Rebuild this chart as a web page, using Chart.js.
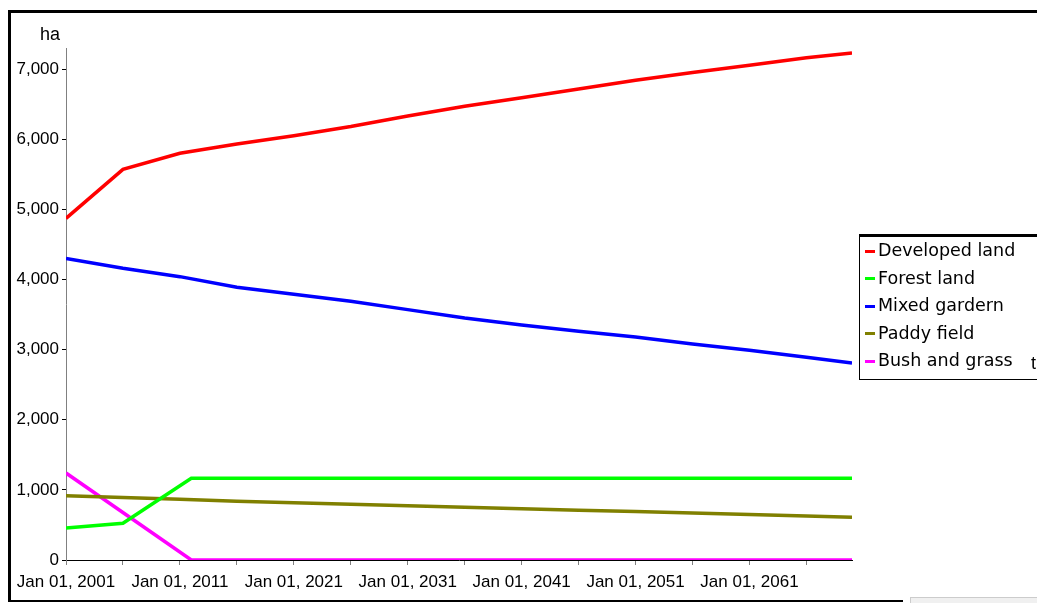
<!DOCTYPE html>
<html lang="en">
<head>
  <meta charset="UTF-8" />
  <title>Land use projection</title>
  <script src="https://cdn.jsdelivr.net/npm/chart.js"></script>
  <style>
    html, body { margin: 0; padding: 0; background: #fff; overflow: hidden; }
    #wrap { position: relative; width: 1037px; height: 603px; }
    #c { position: absolute; left: 0; top: 0; }
    .frame { position: absolute; background: #000; }
    #legend {
      position: absolute; left: 859px; top: 234px; width: 200px; height: 142px;
      border: 1px solid #000; border-top: 3px solid #000;
      font-family: 'DejaVu Sans', sans-serif; font-size: 17.5px; color: #000;
    }
    #legend div { height: 27.6px; line-height: 27.6px; white-space: nowrap; }
    #legend span.dash { display: inline-block; width: 10px; height: 3px; margin: 0 3px 0 5px; vertical-align: middle; }
  </style>
</head>
<body>
  <div id="wrap">
    <canvas id="c" width="1037" height="603"></canvas>
    <!-- outer frame -->
    <div class="frame" style="left:8px;top:10px;width:1029px;height:3px"></div>
    <div class="frame" style="left:8px;top:10px;width:3px;height:592px"></div>
    <div class="frame" style="left:8px;top:600px;width:895px;height:2px"></div>
    <div style="position:absolute;left:910px;top:597px;width:127px;height:6px;background:#f0f0f0;border-top:1px solid #ccc;border-left:1px solid #ccc"></div>
    <div id="legend"></div>
  </div>

  <script>
    // years shared by the smooth series
    const years = [2001, 2006, 2011, 2016, 2021, 2026, 2031, 2036, 2041, 2046, 2051, 2056, 2061, 2066, 2070];
    const developed = [4870, 5570, 5800, 5930, 6050, 6180, 6330, 6470, 6590, 6715, 6840, 6950, 7055, 7160, 7230];
    const mixed = [4300, 4160, 4040, 3890, 3790, 3690, 3570, 3450, 3350, 3260, 3180, 3080, 2990, 2890, 2810];
    const paddy = [915, 890, 865, 838, 815, 795, 775, 752, 730, 710, 690, 670, 650, 628, 610];

    const forestYears = [2001, 2006, 2012, 2070];
    const forest = [456, 525, 1165, 1165];

    const bushYears = [2001, 2012, 2070];
    const bush = [1240, 0, 0];

    const seriesNames = ['Developed land', 'Forest land', 'Mixed gardern', 'Paddy field', 'Bush and grass'];
    const seriesColors = ['#ff0000', '#00ff00', '#0000ff', '#808000', '#ff00ff'];

    const xTickYears = [2001, 2006, 2011, 2016, 2021, 2026, 2031, 2036, 2041, 2046, 2051, 2056, 2061, 2066];
    const xLabelYears = [2001, 2011, 2021, 2031, 2041, 2051, 2061];
    const yTicks = [0, 1000, 2000, 3000, 4000, 5000, 6000, 7000];
    const yUnit = 'ha';
    const xUnit = 't';

    const tickFont = { family: "'Liberation Sans', Arial, sans-serif", size: 17 };

    const pts = (xs, ys) => xs.map((x, i) => ({ x, y: ys[i] }));
    const seriesData = [
      pts(years, developed),
      pts(forestYears, forest),
      pts(years, mixed),
      pts(years, paddy),
      pts(bushYears, bush)
    ];

    const unitLabels = {
      id: 'unitLabels',
      afterDraw(chart) {
        const ctx = chart.ctx;
        ctx.save();
        ctx.fillStyle = '#000';
        ctx.font = '18px ' + tickFont.family;
        ctx.textBaseline = 'middle';
        ctx.textAlign = 'center';
        ctx.fillText(yUnit, 50, 35);
        ctx.textAlign = 'left';
        ctx.fillText(xUnit, 1031, 364);
        ctx.restore();
      }
    };

    const chart = new Chart(document.getElementById('c'), {
      type: 'line',
      data: {
        datasets: seriesNames.map((name, i) => ({
          label: name,
          data: seriesData[i],
          borderColor: seriesColors[i],
          backgroundColor: seriesColors[i],
          borderWidth: 3.5,
          pointRadius: 0,
          tension: 0
        }))
      },
      options: {
        responsive: false,
        animation: false,
        layout: { padding: { left: 0, top: 48, right: 185, bottom: 0 } },
        plugins: { legend: { display: false }, tooltip: { enabled: false } },
        scales: {
          x: {
            type: 'linear',
            min: 2001,
            max: 2070,
            afterBuildTicks: s => { s.ticks = xTickYears.map(v => ({ value: v })); },
            afterFit: s => { s.height = 43; },
            grid: { drawOnChartArea: false, color: '#808080', tickLength: 5 },
            border: { color: '#000' },
            ticks: {
              autoSkip: false,
              maxRotation: 0,
              padding: 7,
              color: '#000',
              font: tickFont,
              callback: v => xLabelYears.includes(v) ? 'Jan 01, ' + v : ''
            }
          },
          y: {
            min: 0,
            max: 7300,
            afterBuildTicks: s => { s.ticks = yTicks.map(v => ({ value: v })); },
            afterFit: s => { s.width = 66; },
            grid: { drawOnChartArea: false, color: '#000', tickLength: 4 },
            border: { color: '#808080' },
            ticks: {
              padding: 3,
              color: '#000',
              font: tickFont,
              callback: v => v.toLocaleString('en-US')
            }
          }
        }
      },
      plugins: [unitLabels]
    });

    // legend box built from the datasets
    const legend = document.getElementById('legend');
    chart.data.datasets.forEach(ds => {
      const row = document.createElement('div');
      row.innerHTML = '<span class="dash" style="background:' + ds.borderColor + '"></span>' + ds.label;
      legend.appendChild(row);
    });
  </script>
</body>
</html>
